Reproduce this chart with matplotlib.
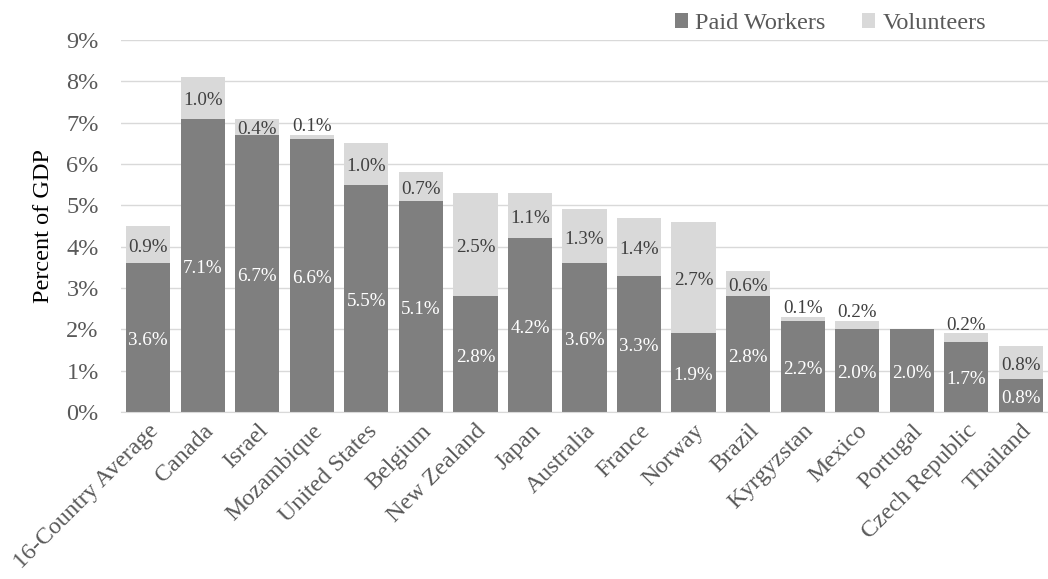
import numpy as np
import matplotlib.pyplot as plt

countries = ["16-Country Average", "Canada", "Israel", "Mozambique", "United States",
             "Belgium", "New Zealand", "Japan", "Australia", "France", "Norway",
             "Brazil", "Kyrgyzstan", "Mexico", "Portugal", "Czech Republic", "Thailand"]
paid = [3.6, 7.1, 6.7, 6.6, 5.5, 5.1, 2.8, 4.2, 3.6, 3.3, 1.9, 2.8, 2.2, 2.0, 2.0, 1.7, 0.8]
volunteers = [0.9, 1.0, 0.4, 0.1, 1.0, 0.7, 2.5, 1.1, 1.3, 1.4, 2.7, 0.6, 0.1, 0.2, 0.0, 0.2, 0.8]

plt.rcParams['font.family'] = ['Liberation Serif', 'DejaVu Serif']

dark = "#7f7f7f"
light = "#d9d9d9"
txt = "#595959"

fig = plt.figure(figsize=(10.48, 5.79), dpi=100)
ax = fig.add_axes([0.1155, 0.2884, 0.8845, 0.6425])

x = np.arange(len(countries))
paid = np.array(paid)
volunteers = np.array(volunteers)

b1 = ax.bar(x, paid, width=0.81, color=dark, label="Paid Workers", zorder=3)
b2 = ax.bar(x, volunteers, width=0.81, bottom=paid, color=light, label="Volunteers", zorder=3)

for i in range(len(x)):
    ax.text(x[i], paid[i] / 2 - 0.07, f"{paid[i]:.1f}%", ha="center", va="center",
            color="white", fontsize=13.7, zorder=4)
    v = volunteers[i]
    if v <= 0:
        continue
    if v < 0.3:
        ax.annotate(f"{v:.1f}%", (x[i], paid[i] + v), xytext=(0, 6), textcoords="offset points",
                    ha="center", va="center", color="#404040", fontsize=13.7, zorder=4)
    else:
        ax.text(x[i], paid[i] + v / 2 - 0.07, f"{v:.1f}%", ha="center", va="center",
                color="#404040", fontsize=13.7, zorder=4)

ax.set_xlim(-0.5, len(x) - 0.5)
ax.set_ylim(0, 9)
ax.set_yticks(range(0, 10))
ax.set_yticklabels([f"{t}%" for t in range(0, 10)])
ax.set_xticks(x)
ax.set_xticklabels(countries, rotation=45, ha="right", rotation_mode="anchor")
ax.tick_params(axis="y", length=0, pad=16, labelsize=17.5, labelcolor=txt)
ax.tick_params(axis="x", length=0, pad=6, labelsize=17.3, labelcolor=txt)
ax.grid(axis="y", color=light, linewidth=1, zorder=0)
for s in ["top", "right", "left"]:
    ax.spines[s].set_visible(False)
ax.spines["bottom"].set_color(light)
ax.spines["bottom"].set_zorder(5)

ax.set_ylabel("Percent of GDP", fontsize=17.5, color="black", labelpad=9)

fig.legend(handles=[b1, b2], loc="upper right", bbox_to_anchor=(0.962, 1.015), ncol=2,
           frameon=False, fontsize=17.5, handlelength=0.55, handleheight=0.55,
           handletextpad=0.3, columnspacing=1.5, labelcolor=txt)

fig.savefig("out.png", dpi=100)
